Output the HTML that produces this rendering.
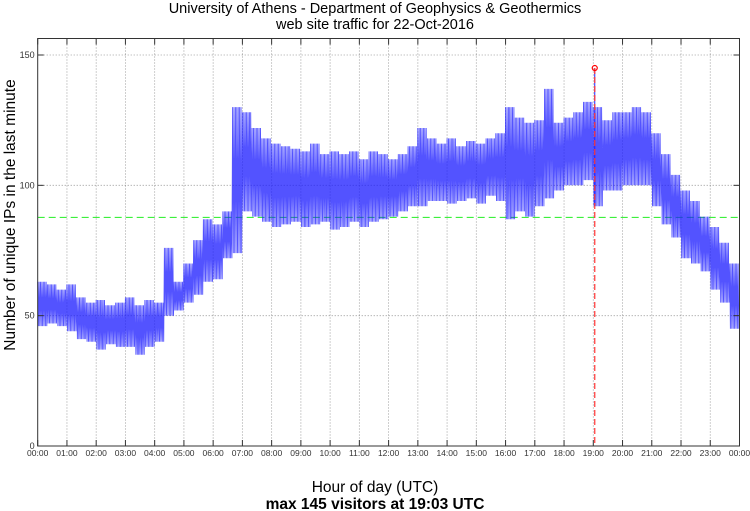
<!DOCTYPE html>
<html><head><meta charset="utf-8"><style>
html,body{margin:0;padding:0;background:#fff;width:750px;height:511px;overflow:hidden}
svg{display:block;font-family:"Liberation Sans",sans-serif}
</style></head><body>
<svg id="chart" width="750" height="511" xmlns="http://www.w3.org/2000/svg">
<text x="375" y="13" text-anchor="middle" font-size="14.5">University of Athens - Department of Geophysics &amp; Geothermics</text>
<text x="375" y="29" text-anchor="middle" font-size="14.5">web site traffic for 22-Oct-2016</text>
<text x="0" y="0" transform="translate(15,215) rotate(-90)" text-anchor="middle" font-size="15.5">Number of unique IPs in the last minute</text>
<text x="375" y="492" text-anchor="middle" font-size="15.5">Hour of day (UTC)</text>
<text x="375" y="509" text-anchor="middle" font-size="15.5" font-weight="bold">max 145 visitors at 19:03 UTC</text>
<g id="grid"></g>
<g id="series"></g>
<g id="frame"></g>
</svg>
<script>
const binMinutes = 20;
const lowValues = [46,47,46,44,41,40,37,39,38,38,35,38,40,50,52,55,58,63,64,72,74,90,88,86,84,85,86,84,85,86,83,84,86,84,86,87,88,90,92,92,94,94,93,94,95,93,96,94,87,90,88,92,95,98,100,100,102,92,98,98,100,100,100,92,85,80,72,70,67,60,55,45];
const highValues = [63,62,60,62,57,55,56,54,55,57,54,56,55,76,63,70,79,87,85,90,130,128,122,118,116,115,114,113,116,112,113,112,113,110,113,112,110,112,115,122,118,116,118,115,117,116,118,120,130,126,124,125,137,124,126,128,132,130,125,128,128,130,128,120,112,104,98,94,88,84,78,70];
const yTicks = [0,50,100,150];
const xTickLabels = ["00:00","01:00","02:00","03:00","04:00","05:00","06:00","07:00","08:00","09:00","10:00","11:00","12:00","13:00","14:00","15:00","16:00","17:00","18:00","19:00","20:00","21:00","22:00","23:00","00:00"];
const averageValue = 87.7;
const peakValue = 145;
const peakMinute = 19*60+3;

const L=37.7,R=739.5,T=38.5,B=446;
const X=m=>L+(R-L)*m/1440;
const Y=v=>B-(B-55)*v/150;
const NS="http://www.w3.org/2000/svg";
function mk(tag,attrs,parent){const e=document.createElementNS(NS,tag);for(const k in attrs)e.setAttribute(k,attrs[k]);parent.appendChild(e);return e;}
const grid=document.getElementById('grid'),series=document.getElementById('series'),frame=document.getElementById('frame');

yTicks.forEach(v=>{
  const g=mk('line',{x1:L,x2:R,y1:Y(v),y2:Y(v),stroke:'#888','stroke-width':0.8,'stroke-dasharray':'1,2'},grid);
  
  
  const t=mk('text',{x:L-3,y:Y(v)+3,'text-anchor':'end','font-size':9,fill:'#333'},frame);
  t.textContent=v;
  
  
  mk('line',{x1:L,x2:L+6,y1:Y(v),y2:Y(v),stroke:'#333'},frame);
  mk('line',{x1:R,x2:R-6,y1:Y(v),y2:Y(v),stroke:'#333'},frame);
});
xTickLabels.forEach((lab,i)=>{
  const x=X(i*60);
  if(i>0&&i<24){
    const g=mk('line',{x1:x,x2:x,y1:T,y2:B,stroke:'#888','stroke-width':0.8,'stroke-dasharray':'1,2'},grid);
    
    
  }
  mk('line',{x1:x,x2:x,y1:B,y2:B-6,stroke:'#333'},frame);
  mk('line',{x1:x,x2:x,y1:T,y2:T+6,stroke:'#333'},frame);
  const t=mk('text',{x:x,y:456,'text-anchor':'middle','font-size':8.5,fill:'#333'},frame);
  t.textContent=lab;
  
  
});

const avg=mk('line',{x1:L,x2:R,y1:Y(averageValue),y2:Y(averageValue),stroke:'#22ee22','stroke-width':1,'stroke-dasharray':'7,4'},grid);



let pts=[];
const sub=14;
lowValues.forEach((lo,i)=>{
  const hi=highValues[i];
  for(let k=0;k<sub;k++){
    const m=i*binMinutes+k*binMinutes/sub;
    const v=(k%2===0)?hi:lo;
    pts.push(X(m).toFixed(1)+','+Y(v).toFixed(1));
  }
});
const line=mk('polyline',{points:pts.join(' '),fill:'none',stroke:'#1a1aff','stroke-width':0.9,'stroke-opacity':0.75},series);



const pb=Math.floor(peakMinute/binMinutes);
const spike=mk('line',{x1:X(peakMinute),x2:X(peakMinute),y1:Y(lowValues[pb]),y2:Y(peakValue),stroke:'#2222ff','stroke-width':1},series);


const vl=mk('line',{x1:X(peakMinute),x2:X(peakMinute),y1:Y(peakValue),y2:B,stroke:'#ff3333','stroke-width':1.2,'stroke-dasharray':'6,3'},series);


const c=mk('circle',{cx:X(peakMinute),cy:Y(peakValue),r:2.5,fill:'none',stroke:'#ff0000','stroke-width':1.2},series);



const box=mk('rect',{x:L,y:T,width:R-L,height:B-T,fill:'none',stroke:'#333','stroke-width':1},frame);


</script>
</body></html>
